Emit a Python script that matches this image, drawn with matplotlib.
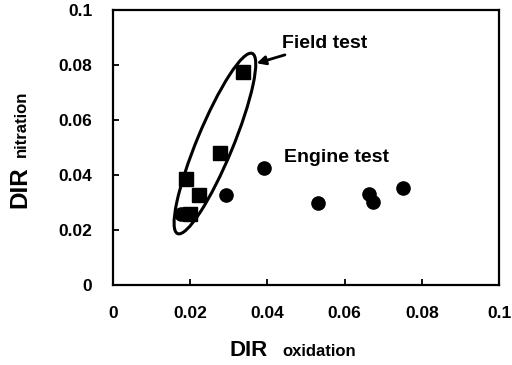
import matplotlib.pyplot as plt
from matplotlib.patches import Ellipse
from matplotlib.transforms import ScaledTranslation

plt.rcParams['font.family'] = 'Liberation Sans'
plt.rcParams['font.weight'] = 'bold'

# field test (squares)
field_x = [0.0336, 0.0278, 0.0188, 0.0222, 0.0199]
field_y = [0.0775, 0.0479, 0.0385, 0.0327, 0.0258]
# engine test (circles)
engine_x = [0.0176, 0.0292, 0.0390, 0.0530, 0.0664, 0.0674, 0.0752]
engine_y = [0.0258, 0.0327, 0.0427, 0.0297, 0.0331, 0.0303, 0.0354]

ticks = [0, 0.02, 0.04, 0.06, 0.08, 0.1]
tick_labels = ['0', '0.02', '0.04', '0.06', '0.08', '0.1']

fig = plt.figure(figsize=(5.12, 3.65), dpi=100)
ax = fig.add_axes([0.2207, 0.219, 0.754, 0.753])

ax.plot(engine_x, engine_y, 'o', color='black', markersize=9.5)
ax.plot(field_x, field_y, 's', color='black', markersize=9.5)

# ellipse around the field test points, drawn in inches around a data point
tr = fig.dpi_scale_trans + ScaledTranslation(0.0264, 0.0515, ax.transData)
ax.add_patch(Ellipse((0, 0), 1.95, 0.36, angle=67.5, fill=False,
                     edgecolor='black', linewidth=2.2, transform=tr))

ax.annotate('Field test', xy=(0.0372, 0.0807), xytext=(0.0437, 0.088),
            fontsize=14, fontweight='bold', va='center',
            arrowprops=dict(arrowstyle='-|>', color='black', lw=2,
                            mutation_scale=13, shrinkA=1, shrinkB=0))
ax.text(0.0444, 0.0465, 'Engine test', fontsize=14, fontweight='bold', va='center')

ax.set_xlim(0, 0.1)
ax.set_ylim(0, 0.1)
ax.set_xticks(ticks)
ax.set_xticklabels(tick_labels)
ax.set_yticks(ticks)
ax.set_yticklabels(tick_labels)
ax.tick_params(direction='in', length=4, width=1.3, labelsize=12.5, pad=15,
               top=False, right=False)
for s in ax.spines.values():
    s.set_linewidth(1.6)

# axis titles: big "DIR" with a smaller word beside it
ax.text(0.303, -0.258, 'DIR', fontsize=16, fontweight='bold',
        ha='left', va='baseline', transform=ax.transAxes)
ax.text(0.440, -0.258, 'oxidation', fontsize=12, fontweight='bold',
        ha='left', va='baseline', transform=ax.transAxes)
ax.text(-0.225, 0.28, 'DIR', fontsize=17.5, fontweight='bold', rotation=90,
        rotation_mode='anchor', ha='left', va='baseline', transform=ax.transAxes)
ax.text(-0.225, 0.465, 'nitration', fontsize=12, fontweight='bold', rotation=90,
        rotation_mode='anchor', ha='left', va='baseline', transform=ax.transAxes)

fig.savefig('out.png', dpi=100)
